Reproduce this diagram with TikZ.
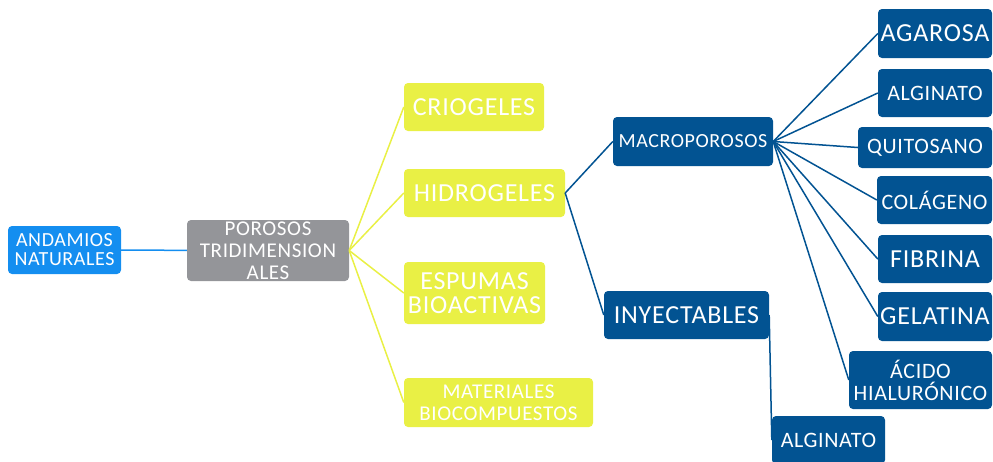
\documentclass[tikz,border=0pt]{standalone}
\usepackage{fontspec}
\setmainfont{Carlito}[LetterSpace=3]
\definecolor{azulclaro}{RGB}{20,142,240}
\definecolor{gris}{RGB}{148,149,153}
\definecolor{amarillo}{RGB}{233,240,69}
\definecolor{azuloscuro}{RGB}{2,83,146}
\tikzset{caja/.style={rectangle,rounded corners=4pt,text=white,align=center,inner sep=0pt}}
\newcommand{\tam}[2]{\fontsize{#1}{#2}\selectfont}

\begin{document}
\begin{tikzpicture}[x=1pt,y=-1pt]
      \useasboundingbox (0,0) rectangle (993,461);

      \begin{scope}[every node/.style={caja}]
        \node[fill=azulclaro,minimum width=113pt,minimum height=48pt,font=\tam{20}{19}] (andam) at (64.5,250) {ANDAMIOS\\NATURALES};
        \node[fill=gris,minimum width=162pt,minimum height=61pt,font=\tam{21}{22}] (poros) at (268,250.5) {POROSOS\\TRIDIMENSION\\ALES};
      \end{scope}

      \begin{scope}[every node/.style={caja,fill=amarillo}]
        \node[minimum width=140pt,minimum height=48pt,font=\tam{26}{24}] (crio)  at (474,107)     {CRIOGELES};
        \node[minimum width=161pt,minimum height=48pt,font=\tam{26}{24}] (hidro) at (484.5,193)   {HIDROGELES};
        \node[minimum width=141pt,minimum height=62pt,font=\tam{26}{24}] (espu)  at (474.5,293)   {ESPUMAS\\BIOACTIVAS};
        \node[minimum width=189pt,minimum height=49pt,font=\tam{21}{22}] (mater) at (498.5,402.5) {MATERIALES\\BIOCOMPUESTOS};
      \end{scope}

      \begin{scope}[every node/.style={caja,fill=azuloscuro}]
        \node[minimum width=160pt,minimum height=49pt,font=\tam{20}{20}] (macro) at (693,141.5)  {MACROPOROSOS};
        \node[minimum width=165pt,minimum height=48pt,font=\tam{26}{24}] (inyec) at (686.5,315)  {INYECTABLES};
        \node[minimum width=114pt,minimum height=49pt,font=\tam{26}{24}] (agar)  at (935,33.5)   {AGAROSA};
        \node[minimum width=114pt,minimum height=48pt,font=\tam{22}{22}] (algA)  at (935,93)     {ALGINATO};
        \node[minimum width=134pt,minimum height=41pt,font=\tam{22}{22}] (quit)  at (925,147.5)  {QUITOSANO};
        \node[minimum width=115pt,minimum height=48pt,font=\tam{22}{22}] (colag) at (934.5,200)  {COLÁGENO};
        \node[minimum width=114pt,minimum height=48pt,font=\tam{26}{24}] (fibr)  at (935,259)    {FIBRINA};
        \node[minimum width=114pt,minimum height=49pt,font=\tam{26}{24}] (gelat) at (935,316.5)  {GELATINA};
        \node[minimum width=143pt,minimum height=58pt,font=\tam{22}{22}] (acido) at (920.5,380) {ÁCIDO\\HIALURÓNICO};
        \node[minimum width=113pt,minimum height=48pt,font=\tam{22}{22}] (algB)  at (828.5,440)  {ALGINATO};
      \end{scope}

      % conectores
      \draw[azulclaro,line width=1.5pt] (andam) -- (poros);

      \begin{scope}[amarillo,line width=1.5pt]
        \draw (poros.east) -- (crio.west);
        \draw (poros.east) -- (hidro.west);
        \draw (poros.east) -- (espu.west);
        \draw (poros.east) -- (mater.west);
      \end{scope}

      \begin{scope}[azuloscuro,line width=1.5pt]
        \draw (hidro.east) -- (macro.west);
        \draw (hidro.east) -- (inyec.west);
        \foreach \n in {agar,algA,quit,colag,fibr,gelat,acido}
          \draw (macro.east) -- (\n.west);
        \draw (inyec.east) -- (algB.west);
      \end{scope}

    \end{tikzpicture}
\end{document}
